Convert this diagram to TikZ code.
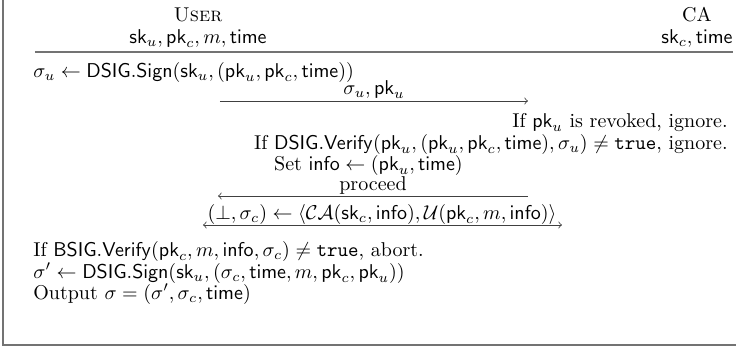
\documentclass[tikz,border=0pt]{standalone}
\usepackage{amsmath,amssymb}
\usetikzlibrary{positioning}

\newcommand{\sk}{\mathsf{sk}}
\newcommand{\pk}{\mathsf{pk}}
\newcommand{\tm}{\mathsf{time}}
\newcommand{\info}{\mathsf{info}}

\begin{document}
\begin{tikzpicture}[x=0.5pt,y=-0.5pt,
    every node/.style={inner sep=0pt},
    frame/.style={draw=black!55, line width=0.6pt},
    msg/.style={->, draw=black!75, line width=0.4pt}]
    \useasboundingbox (0,0) rectangle (736,349);

    % Frame and header rule
    \draw[frame] (3,0) -- (3,345) -- (736,345);
    \draw[frame] (35,52) -- (733,52);

    % Parties and their inputs
    \node[anchor=base] (user) at (198,21) {\textsc{User}};
    \node[anchor=base] (userkeys) at (198,43) {$\sk_u, \pk_c, m, \tm$};
    \node[anchor=base east] (cakeys) at (733,43) {$\sk_c, \tm$};
    \node[anchor=base] (ca) at (cakeys.center |- user.base) {CA};

    % User signs its key
    \node[anchor=base west] (sign) at (33,77)
        {$\sigma_u \gets \mathsf{DSIG.Sign}(\sk_u, (\pk_u, \pk_c, \tm))$};

    % First message
    \coordinate (m1s) at (220,101);
    \coordinate (m1e) at (528,101);
    \node[anchor=base] (m1) at (374,94) {$\sigma_u, \pk_u$};
    \draw[msg] (m1s) -- (m1e);

    % CA checks
    \node[anchor=base east] (revoked) at (728,127) {If $\pk_u$ is revoked, ignore.};
    \node[anchor=base east] (verify) at (728,149)
        {If $\mathsf{DSIG.Verify}(\pk_u, (\pk_u, \pk_c, \tm), \sigma_u) \neq \texttt{true}$, ignore.};
    \node[anchor=base west, xshift=10pt] (setinfo) at (verify.base west |- 0,170)
        {Set $\info \gets (\pk_u, \tm)$};

    % Second message
    \coordinate (m2s) at (528,196);
    \coordinate (m2e) at (218,196);
    \node[anchor=base] (m2) at (373,190) {proceed};
    \draw[msg] (m2s) -- (m2e);

    % Joint blind signing
    \coordinate (m3l) at (203,225);
    \coordinate (m3r) at (562,225);
    \node[anchor=base] (m3) at (382,219)
        {$(\bot, \sigma_c) \gets \langle \mathcal{CA}(\sk_c, \info), \mathcal{U}(\pk_c, m, \info) \rangle$};
    \draw[msg, <->] (m3l) -- (m3r);

    % User finishes
    \node[anchor=base west] (bverify) at (33,256)
        {If $\mathsf{BSIG.Verify}(\pk_c, m, \info, \sigma_c) \neq \texttt{true}$, abort.};
    \node[anchor=base west] (final) at (33,278)
        {$\sigma' \gets \mathsf{DSIG.Sign}(\sk_u, (\sigma_c, \tm, m, \pk_c, \pk_u))$};
    \node[anchor=base west] (output) at (33,299) {Output $\sigma = (\sigma', \sigma_c, \tm)$};
\end{tikzpicture}
\end{document}
